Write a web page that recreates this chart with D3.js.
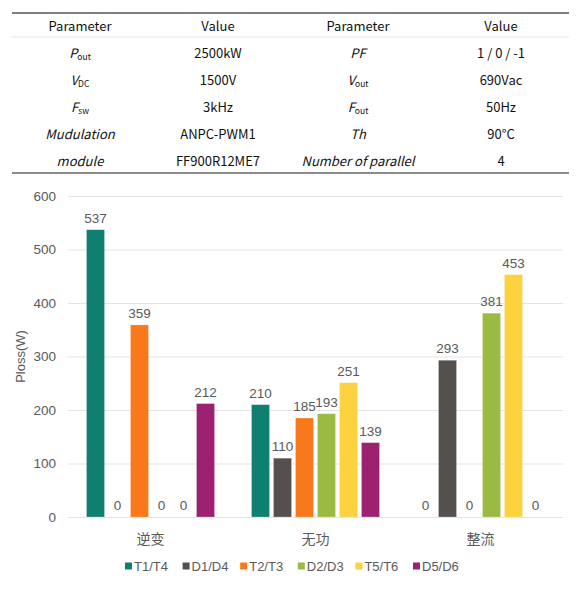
<!DOCTYPE html>
<html>
<head>
<meta charset="utf-8">
<script src="https://d3js.org/d3.v7.min.js"></script>
<style>
  body { margin: 0; background: #fff; }
  svg { display: block; }
  .tbl { font-family: "Noto Sans CJK SC", "Noto Sans", sans-serif; font-size: 13px; fill: #111; }
  .chart text { font-family: "Liberation Sans", Arial, sans-serif; fill: #595959; }
</style>
</head>
<body>
<div id="chart"></div>
<script>
// table contents
var tableHeader = ["Parameter", "Value", "Parameter", "Value"];
var paramLeft = [["P", "out"], ["V", "DC"], ["F", "sw"], ["Mudulation", ""], ["module", ""]];
var valueLeft = ["2500kW", "1500V", "3kHz", "ANPC-PWM1", "FF900R12ME7"];
var paramRight = [["PF", ""], ["V", "out"], ["F", "out"], ["Th", ""], ["Number of parallel", ""]];
var valueRight = ["1 / 0 / -1", "690Vac", "50Hz", "90°C", "4"];

// chart data
var categories = ["逆变", "无功", "整流"];
var series = ["T1/T4", "D1/D4", "T2/T3", "D2/D3", "T5/T6", "D5/D6"];
var T1T4 = [537, 210, 0];
var D1D4 = [0, 110, 293];
var T2T3 = [359, 185, 0];
var D2D3 = [0, 193, 381];
var T5T6 = [0, 251, 453];
var D5D6 = [212, 139, 0];
var yTicks = [0, 100, 200, 300, 400, 500, 600];
var yTitle = "Ploss(W)";

var seriesValues = [T1T4, D1D4, T2T3, D2D3, T5T6, D5D6];
var colors = ["#0e7f71", "#55504e", "#f8781b", "#9bba44", "#fcd23f", "#9c2170"];

var width = 581, height = 600;
var svg = d3.select("#chart").append("svg")
  .attr("width", width)
  .attr("height", height);

// ---------- table ----------
var tbl = svg.append("g").attr("class", "tbl");
var colX = [80, 218, 358, 501];
var headerY = 26;
var rowY = d3.scaleLinear().domain([0, 4]).range([53, 161]);

tbl.append("line").attr("x1", 12).attr("x2", 569).attr("y1", 13).attr("y2", 13)
  .attr("stroke", "#555").attr("stroke-width", 1.5);
tbl.append("line").attr("x1", 12).attr("x2", 569).attr("y1", 37).attr("y2", 37)
  .attr("stroke", "#ddd").attr("stroke-width", 0.8);
tbl.append("line").attr("x1", 12).attr("x2", 569).attr("y1", 173).attr("y2", 173)
  .attr("stroke", "#666").attr("stroke-width", 1.5);

tbl.selectAll(".hdr").data(tableHeader).enter().append("text")
  .attr("class", "hdr")
  .attr("x", function(d, i) { return colX[i]; })
  .attr("y", headerY + 5)
  .attr("text-anchor", "middle")
  .text(function(d) { return d; });

function drawParam(list, cx) {
  list.forEach(function(p, i) {
    var t = tbl.append("text")
      .attr("x", cx)
      .attr("y", rowY(i) + 5)
      .attr("text-anchor", "middle");
    t.append("tspan").style("font-style", "italic").text(p[0]);
    if (p[1]) {
      t.append("tspan").attr("dy", 2).style("font-size", "8.5px").text(p[1]);
    }
  });
}
function drawValue(list, cx) {
  tbl.selectAll(null).data(list).enter().append("text")
    .attr("x", cx)
    .attr("y", function(d, i) { return rowY(i) + 5; })
    .attr("text-anchor", "middle")
    .text(function(d) { return d; });
}
drawParam(paramLeft, colX[0]);
drawValue(valueLeft, colX[1]);
drawParam(paramRight, colX[2]);
drawValue(valueRight, colX[3]);

// ---------- bar chart ----------
var chart = svg.append("g").attr("class", "chart");
var plotLeft = 68, plotRight = 563, plotTop = 196, plotBottom = 517;

var x0 = d3.scaleBand().domain(categories).range([plotLeft, plotRight]);
var gw = x0.bandwidth();
var x1 = d3.scaleBand().domain(series).range([gw * 0.1, gw * 0.9])
  .paddingInner(0.18).paddingOuter(0.09);
var y = d3.scaleLinear().domain([0, 600]).range([plotBottom, plotTop]);

var yAxis = chart.append("g")
  .attr("transform", "translate(" + plotLeft + ",0)")
  .call(d3.axisLeft(y).tickValues(yTicks).tickSize(-(plotRight - plotLeft)).tickPadding(12));
yAxis.select(".domain").remove();
yAxis.selectAll(".tick line").attr("stroke", "#e3e3e3").attr("stroke-width", 1);
yAxis.selectAll(".tick text").style("font-size", "13.5px");

chart.append("text")
  .attr("transform", "translate(25," + ((plotTop + plotBottom) / 2) + ") rotate(-90)")
  .attr("text-anchor", "middle")
  .style("font-size", "13px")
  .text(yTitle);

var groups = chart.selectAll(".grp").data(categories).enter().append("g")
  .attr("class", "grp")
  .attr("transform", function(d) { return "translate(" + x0(d) + ",0)"; });

groups.each(function(cat, ci) {
  var g = d3.select(this);
  var rows = series.map(function(s, si) { return { s: s, v: seriesValues[si][ci], c: colors[si] }; });
  g.selectAll("rect").data(rows).enter().append("rect")
    .attr("x", function(d) { return x1(d.s); })
    .attr("width", x1.bandwidth())
    .attr("y", function(d) { return y(d.v); })
    .attr("height", function(d) { return y(0) - y(d.v); })
    .attr("fill", function(d) { return d.c; })
    .attr("stroke", "#ffffff").attr("stroke-opacity", 0.4).attr("stroke-width", 0.6);
  g.selectAll(".lbl").data(rows).enter().append("text")
    .attr("class", "lbl")
    .attr("x", function(d) { return x1(d.s) + x1.bandwidth() / 2; })
    .attr("y", function(d) { return y(d.v) - 7; })
    .attr("text-anchor", "middle")
    .style("font-size", "13.5px")
    .text(function(d) { return d.v; });
});

chart.selectAll(".cat").data(categories).enter().append("text")
  .attr("class", "cat")
  .attr("x", function(d) { return x0(d) + gw / 2; })
  .attr("y", 544)
  .attr("text-anchor", "middle")
  .style("font-size", "14px")
  .style("font-family", "Noto Sans CJK SC, sans-serif")
  .text(function(d) { return d; });

// legend
var legendX = d3.scalePoint().domain(series).range([125, 413]);
var leg = chart.selectAll(".leg").data(series).enter().append("g")
  .attr("class", "leg")
  .attr("transform", function(d) { return "translate(" + legendX(d) + ",566)"; });
leg.append("rect").attr("x", 0).attr("y", -3.5).attr("width", 7).attr("height", 7)
  .attr("fill", function(d, i) { return colors[i]; });
leg.append("text").attr("x", 9).attr("y", 5)
  .style("font-size", "13px")
  .text(function(d) { return d; });
</script>
</body>
</html>
